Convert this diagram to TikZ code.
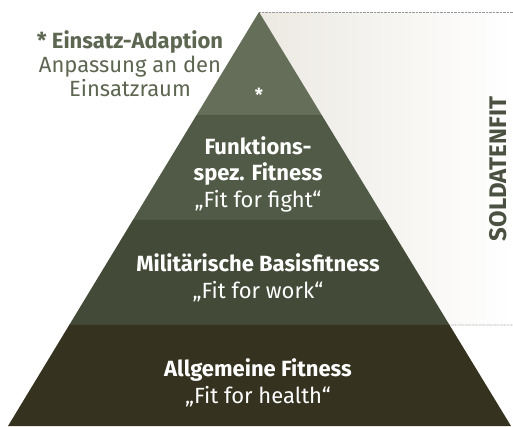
\documentclass[tikz,border=0pt]{standalone}
\usepackage{fontspec}
\setmainfont{Fira Sans}
\usetikzlibrary{calc,positioning}
\definecolor{layerA}{RGB}{101,110,88}
\definecolor{layerB}{RGB}{80,90,70}
\definecolor{layerC}{RGB}{67,75,56}
\definecolor{layerD}{RGB}{53,51,32}
\definecolor{labelgreen}{RGB}{93,102,81}
\definecolor{sidegreen}{RGB}{74,81,64}
\definecolor{sidegray}{RGB}{236,233,226}
\tikzset{
  layertext/.style={text=white, align=center, font=\fontsize{22}{26.5}\selectfont},
  labeltext/.style={text=labelgreen, align=center, font=\fontsize{22}{24}\selectfont},
  dotline/.style={gray!80, line width=0.6pt, dash pattern=on 0.7pt off 0.7pt}
}

\begin{document}
\begin{tikzpicture}[x=1pt,y=-1pt]
\useasboundingbox (0,0) rectangle (513,426);
\coordinate (apex) at (259,12);
\coordinate (bl) at (8,426);
\coordinate (br) at (511,426);
% band behind the upper three layers
\shade[left color=sidegray, right color=white]
  (apex) -- (513,12) -- (513,325) -- ($(apex)!0.756!(br)$) -- cycle;
\draw[dotline] (apex) -- (513,12);
\draw[dotline] ($(apex)!0.756!(br)$) -- (513,325);
% layers
\foreach \top/\bot/\col in {0/0.249/layerA, 0.249/0.502/layerB,
                            0.502/0.756/layerC, 0.756/1/layerD}
  \fill[\col] ($(apex)!\top!(bl)$) -- ($(apex)!\bot!(bl)$)
     -- ($(apex)!\bot!(br)$) -- ($(apex)!\top!(br)$) -- cycle;
% texts
\node[layertext, font=\fontsize{18}{20}\selectfont] (star) at (259,95) {\textbf{*}};
\node[layertext] (funktion) at (258,174)
  {\textbf{Funktions-}\\\textbf{spez. Fitness}\\„Fit for fight“};
\node[layertext] (basis) at (258,278)
  {\textbf{Militärische Basisfitness}\\„Fit for work“};
\node[layertext] (allgemein) at (258,383)
  {\textbf{Allgemeine Fitness}\\„Fit for health“};
\node[labeltext] (einsatz) at (130,64)
  {\textbf{* Einsatz-Adaption}\\Anpassung an den\\Einsatzraum};
\node[rotate=90, text=sidegreen, font=\fontsize{24}{26}\selectfont\bfseries]
  (soldatenfit) at (498,169) {SOLDATENFIT};
\end{tikzpicture}
\end{document}
